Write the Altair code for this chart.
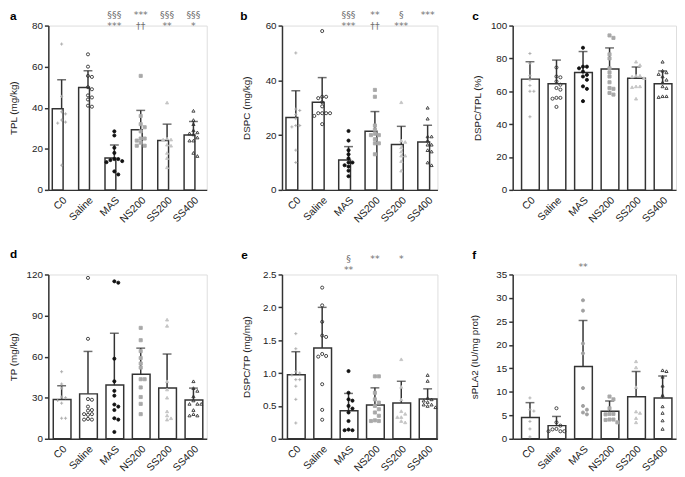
import altair as alt
import pandas as pd

GROUPS = ["C0", "Saline", "MAS", "NS200", "SS200", "SS400"]

# ---------------- panel a : TPL ----------------
A_MEAN = [39.5, 49.9, 15.5, 29.3, 24.0, 26.7]
A_UPPER = [53.6, 58.0, 21.9, 38.7, 32.0, 33.3]
A_POINTS = [
    [71, 45.5, 38, 37, 34, 33, 32.5, 12],
    [66, 60, 55.5, 55, 50, 49, 46, 45, 44, 40.5, 41],
    [28.5, 26.5, 20.5, 18, 15, 15, 14.5, 14, 13.5, 7.5, 9],
    [55.5, 36, 32, 30.5, 28.5, 25, 25, 24, 23, 21.5, 21.5],
    [42.5, 25, 24.5, 24.5, 22, 21.5, 18, 15.5, 11],
    [38.5, 34, 32, 29, 28, 27.5, 27, 25.5, 24, 24, 18, 16.5],
]
A_ROW1 = ["", "", "§§§", "***", "§§§", "§§§"]
A_ROW2 = ["", "", "***", "††", "**", "*"]
A_TICKS = [0, 20, 40, 60, 80]

# ---------------- panel b : DSPC ----------------
B_MEAN = [26.4, 32.0, 10.9, 21.4, 16.6, 17.5]
B_UPPER = [36.2, 41.0, 15.8, 28.6, 23.2, 23.6]
B_POINTS = [
    [50, 29.5, 29, 27.5, 26, 23.5, 23.5, 23, 14.5, 10],
    [58, 34, 34, 33.5, 32, 30.5, 28, 28, 28, 28, 27, 24],
    [21.5, 18, 14.5, 13, 11.5, 10, 10, 9, 8.5, 7, 5],
    [36.5, 34, 23.5, 22, 20.5, 20, 20, 18.5, 17, 17, 13],
    [32, 18, 17.5, 15.5, 14, 12.5, 12.5, 10.5, 7],
    [30, 26, 19.5, 19.5, 18, 16.5, 16.5, 14, 14.5, 9, 10],
]
B_ROW1 = ["", "", "§§§", "**", "§", "***"]
B_ROW2 = ["", "", "***", "††", "***", ""]
B_TICKS = [0, 20, 40, 60]

# ---------------- panel c : DSPC/TPL ----------------
C_MEAN = [67.4, 64.6, 71.4, 73.6, 68.0, 64.6]
C_UPPER = [78.0, 79.0, 84.2, 86.4, 74.8, 72.4]
C_POINTS = [
    [83, 77, 69.5, 67, 63.5, 60, 60, 44.5],
    [74.5, 69, 68.5, 66, 64, 62, 61, 56, 56, 55.5, 50.5],
    [86.5, 75, 75, 74, 72, 70, 69, 67, 63, 61.5, 54],
    [94, 92.5, 82.5, 80, 74, 71.5, 69, 65.5, 62, 61.5, 59, 58],
    [78, 76, 69.5, 69.5, 69, 68, 63, 63, 62.5, 55.5],
    [78, 72.5, 71.5, 70.5, 69, 67, 65.5, 63, 62, 57, 57, 56.5],
]
C_ROW1 = ["", "", "", "", "", ""]
C_ROW2 = ["", "", "", "", "", ""]
C_TICKS = [0, 20, 40, 60, 80, 100]

# ---------------- panel d : TP ----------------
D_MEAN = [28.7, 32.8, 39.2, 47.1, 37.1, 28.4]
D_UPPER = [38.7, 63.8, 77.0, 66.2, 61.9, 37.0]
D_POINTS = [
    [49, 40, 37, 30.5, 30, 28, 26, 15, 15],
    [117.5, 73, 29, 28.5, 23.5, 21, 20.5, 18, 18, 17.5, 14.5, 14, 14],
    [115, 114, 58.5, 42, 35, 31.5, 25, 23.5, 21, 15, 14, 5],
    [81, 72, 64, 59, 55, 52, 43.5, 43.5, 37.5, 30.5, 25.5, 18],
    [87, 82.5, 42, 36, 30, 20, 17, 14, 15],
    [42, 37, 35, 31, 28, 25.5, 25.5, 25.5, 21, 17, 18, 17],
]
D_ROW1 = ["", "", "", "", "", ""]
D_ROW2 = ["", "", "", "", "", ""]
D_TICKS = [0, 30, 60, 90, 120]

# ---------------- panel e : DSPC/TP ----------------
E_MEAN = [0.975, 1.38, 0.425, 0.515, 0.545, 0.605]
E_UPPER = [1.325, 2.0, 0.69, 0.775, 0.875, 0.76]
E_POINTS = [
    [1.6, 1.37, 1.02, 1.0, 0.97, 0.9, 0.9, 0.8, 0.6, 0.24],
    [2.3, 2.03, 1.78, 1.57, 1.55, 1.29, 1.26, 1.25, 0.83, 0.44, 0.29],
    [1.03, 0.7, 0.6, 0.58, 0.5, 0.46, 0.4, 0.27, 0.14, 0.13, 0.13],
    [0.95, 0.95, 0.7, 0.6, 0.55, 0.5, 0.45, 0.4, 0.35, 0.28, 0.27, 0.27],
    [1.21, 0.79, 0.6, 0.42, 0.38, 0.33, 0.33, 0.27, 0.25],
    [0.97, 0.88, 0.62, 0.6, 0.58, 0.56, 0.52, 0.52, 0.5, 0.48],
]
E_ROW1 = ["", "", "§", "**", "*", ""]
E_ROW2 = ["", "", "**", "", "", ""]
E_TICKS = [0, 0.5, 1.0, 1.5, 2.0, 2.5]

# ---------------- panel f : sPLA2 ----------------
F_MEAN = [4.55, 2.8, 15.4, 5.88, 8.96, 8.68]
F_UPPER = [7.7, 4.76, 25.2, 8.05, 14.35, 13.37]
F_POINTS = [
    [8.7, 6.2, 5.9, 3.7, 2.1, 0.4],
    [6.5, 3.5, 2.8, 2.1, 2.0, 1.6, 1.6, 1.6],
    [29.5, 27.3, 20.3, 18.2, 10.8, 7.0, 6.2, 5.6, 5.2],
    [9.0, 8.4, 6.5, 5.3, 5.3, 5.2, 4.1, 4.1, 4.0, 3.5],
    [16.5, 15.2, 11, 5.8, 5.5, 4.4, 3.5],
    [14.6, 14.4, 13.2, 11.3, 9.3, 6.9, 5.5, 3.9, 2.1],
]
F_ROW1 = ["", "", "**", "", "", ""]
F_ROW2 = ["", "", "", "", "", ""]
F_TICKS = [0, 5, 10, 15, 20, 25, 30, 35]

# ---------------- styling ----------------
FONT = "Liberation Sans"
AX = "#333333"
TXT = "#222222"
ANN = "#707070"
PLUS = "M-1,0H1M0,-1V1"
SHAPES = [PLUS, "circle", "circle", "square", "triangle-up", "triangle-up"]
FILLS = ["transparent", "transparent", "#111111", "#a9a9a9", "#c4c4c4", "transparent"]
STROKES = ["#aaaaaa", "#333333", "#111111", "#a9a9a9", "#c4c4c4", "#333333"]
F_FILLS = ["transparent", "transparent", "#a0a0a0", "#a9a9a9", "#c4c4c4", "transparent"]
F_STROKES = ["#aaaaaa", "#333333", "#a0a0a0", "#a9a9a9", "#c4c4c4", "#333333"]

H = 167
COLW = [161, 158, 166]
BAND = [(0.366, 0.187, 0.5), (0.366, 0.131, 0.79), (0.366, 0.261, 0.64)]


def swarm(vals, ymax, height, d=4.0, lim=8.0):
    pix = [v / ymax * height for v in vals]
    cands = [0.0]
    k = 1
    while k * d <= lim:
        cands += [k * d, -k * d]
        k += 1
    order = sorted(range(len(vals)), key=lambda i: -pix[i])
    placed = []
    offs = [0.0] * len(vals)
    for i in order:
        chosen = None
        for c in cands:
            if all((c - pc) ** 2 + (pix[i] - py) ** 2 >= d * d for pc, py in placed):
                chosen = c
                break
        if chosen is None:
            chosen = max(cands, key=lambda c: min(((c - pc) ** 2 + (pix[i] - py) ** 2) for pc, py in placed))
        placed.append((chosen, pix[i]))
        offs[i] = chosen
    return offs


def make_panel(letter, means, upper, points, row1, row2, ymax, ticks, ytitle, col,
               barkw, titlex, letterx, lettery, anny, fmt=None, fills=FILLS, strokes=STROKES):
    width = COLW[col]
    pi, po, al = BAND[col]
    step = width / (len(GROUPS) - pi + 2 * po)
    bw = step * (1 - pi)

    xsc = alt.Scale(domain=GROUPS, paddingInner=pi, paddingOuter=po, align=al)
    xax = alt.Axis(title=None, labelAngle=-45, labelAlign="right", labelBaseline="top",
                   labelPadding=5, ticks=False, tickSize=0, domainColor=AX, domainWidth=1.5,
                   labelColor=TXT, labelFontSize=10.5, labelFont=FONT)
    ysc = alt.Scale(domain=[0, ymax], nice=False, zero=True)
    yargs = dict(title=ytitle, values=ticks, grid=False, tickSize=4, tickWidth=1.5,
                 tickColor=AX, domainColor=AX, domainWidth=1.5, labelPadding=2,
                 labelFontSize=10, labelColor=TXT, labelFont=FONT, titleFont=FONT,
                 titleFontSize=10, titleFontWeight="normal", titleColor=TXT,
                 titleX=titlex, titleY=H / 2, titleAngle=270, titleBaseline="bottom",
                 titleAlign="center")
    if fmt:
        yargs["labelExpr"] = fmt
    yax = alt.Axis(**yargs)
    X = alt.X("group:N", scale=xsc, axis=xax, sort=GROUPS)

    bdf = pd.DataFrame({"group": GROUPS, "mean": means, "upper": upper})
    base = alt.Chart(bdf)
    bars = base.mark_bar(fill="white", stroke=AX, strokeWidth=1.5, **barkw).encode(
        x=X, y=alt.Y("mean:Q", scale=ysc, axis=yax))
    rule = base.mark_rule(color=AX, strokeWidth=1.5).encode(
        x=X, y=alt.Y("mean:Q", scale=ysc, axis=yax), y2="upper:Q")
    cap = base.mark_tick(color=AX, thickness=1.5, size=9, orient="horizontal").encode(
        x=X, y=alt.Y("upper:Q", scale=ysc, axis=yax))

    rows = []
    for g, vals in zip(GROUPS, points):
        offs = swarm(vals, ymax, H)
        for v, o in zip(vals, offs):
            rows.append({"group": g, "value": v, "off": o})
    pdf = pd.DataFrame(rows)
    pts = alt.Chart(pdf).mark_point(filled=True, strokeWidth=0.9, opacity=1, size=10).encode(
        x=X,
        xOffset=alt.XOffset("off:Q", scale=alt.Scale(domain=[-20, 20], range=[bw / 2 - 20, bw / 2 + 20])),
        y=alt.Y("value:Q", scale=ysc, axis=yax),
        shape=alt.Shape("group:N", scale=alt.Scale(domain=GROUPS, range=SHAPES), legend=None),
        fill=alt.Fill("group:N", scale=alt.Scale(domain=GROUPS, range=fills), legend=None),
        stroke=alt.Stroke("group:N", scale=alt.Scale(domain=GROUPS, range=strokes), legend=None),
    )

    layers = [bars, rule, cap, pts]

    ann = []
    for g, t1, t2 in zip(GROUPS, row1, row2):
        if t1 or t2:
            ann.append({"group": g, "txt": t1 + ("\n" + t2 if t2 else "")})
    if ann:
        adf = pd.DataFrame(ann)
        layers.append(alt.Chart(adf).mark_text(
            font="DejaVu Sans", fontSize=9.5, lineHeight=11, lineBreak="\n",
            fill=ANN, color=ANN, opacity=0.99, baseline="alphabetic", align="center").encode(
            x=X, text="txt:N", y=alt.value(anny)))

    ldf = pd.DataFrame({"t": [letter]})
    layers.append(alt.Chart(ldf).mark_text(font=FONT, fontSize=12, fontWeight="bold",
                                           color="black", align="left", baseline="alphabetic").encode(
        text="t:N", x=alt.value(letterx), y=alt.value(lettery)))

    return alt.layer(*layers).properties(width=width, height=H)


narrow = dict(size=11, xOffset=-4)
wide = dict()
E_FMT = "datum.value == 0 ? '0' : format(datum.value, '.1f')"

pa = make_panel("a", A_MEAN, A_UPPER, A_POINTS, A_ROW1, A_ROW2, 80, A_TICKS, "TPL (mg/kg)", 0,
                narrow, -30, -39, -5.5, -7.5)
pb = make_panel("b", B_MEAN, B_UPPER, B_POINTS, B_ROW1, B_ROW2, 60, B_TICKS, "DSPC (mg/kg)", 1,
                dict(size=12, xOffset=-4), -31, -42.5, -5.5, -7.5)
pc = make_panel("c", C_MEAN, C_UPPER, C_POINTS, C_ROW1, C_ROW2, 100, C_TICKS, "DSPC/TPL (%)", 2,
                wide, -31, -41, -5.5, -7.5)
pd_ = make_panel("d", D_MEAN, D_UPPER, D_POINTS, D_ROW1, D_ROW2, 120, D_TICKS, "TP (mg/kg)", 0,
                 wide, -30, -39, -17, -12.5)
pe = make_panel("e", E_MEAN, E_UPPER, E_POINTS, E_ROW1, E_ROW2, 2.5, E_TICKS, "DSPC/TP (mg/mg)", 1,
                wide, -31, -41.5, -16, -12.5, fmt=E_FMT)
pf = make_panel("f", F_MEAN, F_UPPER, F_POINTS, F_ROW1, F_ROW2, 35, F_TICKS, "sPLA2 (IU/mg prot)", 2,
                wide, -34, -41, -16, -4.3, fills=F_FILLS, strokes=F_STROKES)

chart = alt.concat(pa, pb, pc, pd_, pe, pf, columns=3,
                   spacing={"row": 86, "column": 76.5}, bounds="flush").resolve_scale(
    fill="independent", stroke="independent", shape="independent"
).properties(
    padding={"left": 0, "right": 0, "top": -2, "bottom": 0}
).configure_view(stroke=None).configure(font=FONT)

chart.save("out.html", embed_options={"renderer": "svg", "actions": False})
